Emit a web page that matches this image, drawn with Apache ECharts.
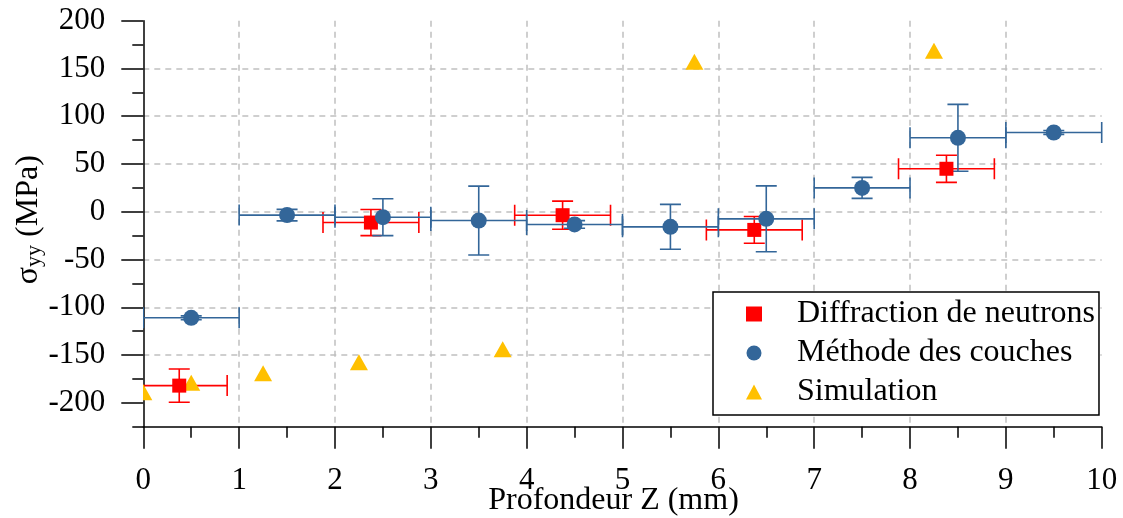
<!DOCTYPE html>
<html><head><meta charset="utf-8">
<script src="https://cdn.jsdelivr.net/npm/echarts@6/dist/echarts.min.js"></script>
<style>html,body{margin:0;padding:0;background:#fff}#c{width:1123px;height:518px}</style>
</head><body><div id="c"></div>
<script>
const seriesNames = ['Diffraction de neutrons', 'Méthode des couches', 'Simulation'];
// Diffraction de neutrons
const neutronX = [0.375, 2.375, 4.375, 6.375, 8.38];
const neutronY = [-182, -11.3, -3.6, -19, 45];
const neutronXErr = [0.5, 0.5, 0.5, 0.5, 0.5];
const neutronYErr = [17.4, 13.7, 14.7, 14, 14.2];
// Méthode des couches
const layerX = [0.5, 1.5, 2.5, 3.5, 4.5, 5.5, 6.5, 7.5, 8.5, 9.5];
const layerY = [-111, -3.5, -5.7, -9.2, -13.3, -15.8, -7.4, 25, 77.4, 83];
const layerXErr = [0.5, 0.5, 0.5, 0.5, 0.5, 0.5, 0.5, 0.5, 0.5, 0.5];
const layerYErr = [2, 6, 19.3, 36, 4, 23.5, 34.5, 11, 35, 2];
// Simulation
const simX = [0, 0.5, 1.25, 2.25, 3.75, 5.75, 8.25];
const simY = [-189, -179, -169, -157.5, -144, 157, 168.5];
// Axis ticks
const yTickValues = [-200, -150, -100, -50, 0, 50, 100, 150, 200];

const FONT = 'Liberation Serif';
const RED = '#FF0000', BLUE = '#336699', YELLOW = '#FFC000';

function zip(xs, ys, exs, eys) {
  return xs.map((x, i) => exs ? [x, ys[i], exs[i], eys[i]] : [x, ys[i]]);
}

function errRender(color) {
  return function (params, api) {
    const x = api.value(0), y = api.value(1), ex = api.value(2), ey = api.value(3);
    const l = api.coord([x - ex, y]), r = api.coord([x + ex, y]);
    const t = api.coord([x, y + ey]), b = api.coord([x, y - ey]);
    const h = 10.5;
    const style = { stroke: color, lineWidth: 1.6, fill: null };
    const ln = (x1, y1, x2, y2) => ({ type: 'line', shape: { x1, y1, x2, y2 }, style });
    return {
      type: 'group', children: [
        ln(l[0], l[1], r[0], r[1]),
        ln(l[0], l[1] - h, l[0], l[1] + h),
        ln(r[0], r[1] - h, r[0], r[1] + h),
        ln(t[0], t[1], b[0], b[1]),
        ln(t[0] - h, t[1], t[0] + h, t[1]),
        ln(b[0] - h, b[1], b[0] + h, b[1])
      ]
    };
  };
}

function triRender(params, api) {
  const c = api.coord([api.value(0), api.value(1)]);
  const w = 9, h = 8;
  return {
    type: 'polygon',
    shape: { points: [[c[0], c[1] - h], [c[0] + w, c[1] + h], [c[0] - w, c[1] + h]] },
    style: { fill: YELLOW, stroke: null }
  };
}

const chart = echarts.init(document.getElementById('c'), null, { renderer: 'canvas' });
const axisLineStyle = { color: '#000', width: 1.5 };
const gridLineStyle = { color: '#c0c0c0', type: [6, 5], width: 1.5 };

chart.setOption({
  animation: false,
  backgroundColor: '#fff',
  textStyle: { fontFamily: FONT },
  grid: { left: 143.3, right: 21.3, top: 20.7, bottom: 91.3, containLabel: false, outerBoundsMode: 'none' },
  legend: {
    orient: 'vertical',
    left: 713, top: 292,
    padding: [6, 4, 7, 33],
    itemWidth: 16, itemHeight: 15, itemGap: 7,
    borderColor: '#000', borderWidth: 1.5, backgroundColor: '#fff',
    data: [
      { name: seriesNames[0], icon: 'rect' },
      { name: seriesNames[1], icon: 'circle' },
      { name: seriesNames[2], icon: 'triangle' }
    ],
    formatter: n => '{s|}' + n,
    textStyle: { fontFamily: FONT, fontSize: 32, color: '#000', rich: { s: { width: 30 } } }
  },
  xAxis: {
    type: 'value', min: 0, max: 10, interval: 1,
    name: 'Profondeur Z (mm)', nameLocation: 'middle', nameGap: 58, nameMoveOverlap: false,
    nameTextStyle: { fontFamily: FONT, fontSize: 32, color: '#000', padding: [0, 18, 0, 0] },
    axisLine: { show: true, onZero: false, lineStyle: axisLineStyle },
    axisTick: { show: true, length: 22, lineStyle: axisLineStyle },
    minorTick: { show: true, splitNumber: 2, length: 11, lineStyle: axisLineStyle },
    axisLabel: { fontFamily: FONT, fontSize: 31, color: '#000', margin: 39 },
    splitLine: { show: true, showMinLine: false, showMaxLine: false, lineStyle: gridLineStyle }
  },
  yAxis: [
    {
      type: 'value', position: 'left', min: -225, max: 200, interval: 25,
      name: '{a|σ}{b|yy}{a| (MPa)}', nameLocation: 'middle', nameGap: 98, nameRotate: 90, nameMoveOverlap: false,
      nameTextStyle: {
        color: '#000',
        padding: [0, 0, 0, 8],
        rich: {
          a: { fontFamily: FONT, fontSize: 32, color: '#000' },
          b: { fontFamily: FONT, fontSize: 22, color: '#000', padding: [12, 0, 0, 0] }
        }
      },
      axisLine: { show: true, onZero: false, lineStyle: axisLineStyle },
      axisTick: { show: true, length: 22, customValues: yTickValues, lineStyle: axisLineStyle },
      axisLabel: { customValues: yTickValues, fontFamily: FONT, fontSize: 31, color: '#000', margin: 38 },
      splitLine: { show: true, showMinLine: false, showMaxLine: false, lineStyle: gridLineStyle }
    },
    {
      type: 'value', position: 'left', offset: 0, min: -225, max: 200, interval: 25,
      axisLine: { show: false, onZero: false },
      axisTick: { show: true, length: 11, lineStyle: axisLineStyle },
      axisLabel: { show: false },
      splitLine: { show: false }
    }
  ],
  series: [
    {
      type: 'custom', name: 'errN', clip: true, z: 2,
      renderItem: errRender(RED),
      encode: { x: 0, y: 1 },
      data: zip(neutronX, neutronY, neutronXErr, neutronYErr)
    },
    {
      type: 'scatter', name: seriesNames[0], symbol: 'rect', symbolSize: 14, z: 2,
      itemStyle: { color: RED, opacity: 1 },
      data: zip(neutronX, neutronY)
    },
    {
      type: 'custom', name: 'errL', clip: true, z: 2,
      renderItem: errRender(BLUE),
      encode: { x: 0, y: 1 },
      data: zip(layerX, layerY, layerXErr, layerYErr)
    },
    {
      type: 'scatter', name: seriesNames[1], symbol: 'circle', symbolSize: 16, z: 2,
      itemStyle: { color: BLUE, opacity: 1 },
      data: zip(layerX, layerY)
    },
    {
      type: 'custom', name: seriesNames[2], clip: true, z: 2,
      itemStyle: { color: YELLOW },
      renderItem: triRender,
      encode: { x: 0, y: 1 },
      data: zip(simX, simY)
    }
  ]
});
</script>
</body></html>
